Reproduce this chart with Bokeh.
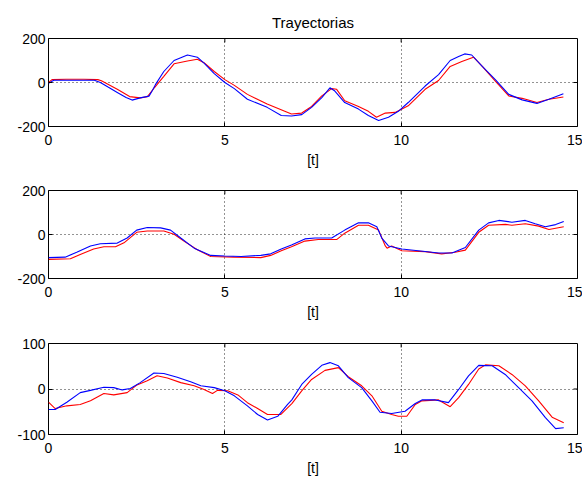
from bokeh.plotting import figure
from bokeh.layouts import column
from bokeh.models import Range1d, FixedTicker
from bokeh.embed import file_html
from bokeh.resources import INLINE

title_text = "Trayectorias"
x_label = "[t]"
x_ticks = [0, 5, 10, 15]
x_tick_labels = ["0", "5", "10", "15"]
y_ticks_12 = [-200, 0, 200]
y_tick_labels_12 = ["-200", "0", "200"]
y_ticks_3 = [-100, 0, 100]
y_tick_labels_3 = ["-100", "0", "100"]

# ---- subplot 1 ----
t1_blue = [0, 0.15, 0.5, 1.0, 1.3, 1.47, 1.7, 1.95, 2.2, 2.37, 2.6, 2.85, 2.95, 3.05, 3.27, 3.56, 3.94,
           4.22, 4.41, 4.7, 5.0, 5.27, 5.64, 6.2, 6.6, 6.89, 7.18, 7.46, 7.75, 7.98, 8.12, 8.4, 8.79,
           9.07, 9.36, 9.64, 9.92, 10.2, 10.68, 11.06, 11.39, 11.63, 11.8, 12.0, 12.3, 12.67, 13.05,
           13.43, 13.85, 14.19, 14.6]
v1_blue = [-4, 10, 10, 10, 10, 0, -22, -45, -68, -80, -70, -62, -35, -5, 50, 100, 125,
           115, 88, 40, 0, -28, -76, -113, -150, -152, -146, -113, -69, -24, -39, -91, -121,
           -150, -173, -158, -131, -91, -16, 36, 100, 118, 130, 125, 73, 13, -54,
           -79, -95, -76, -51]
t1_red = [0, 0.1, 0.5, 1.0, 1.4, 1.5, 1.95, 2.3, 2.6, 2.8, 3.0, 3.27, 3.56, 3.94, 4.22, 4.41, 4.7,
          5.0, 5.27, 5.64, 6.2, 6.89, 7.18, 7.46, 7.75, 8.03, 8.17, 8.4, 8.79, 9.07, 9.3, 9.55, 9.83,
          10.2, 10.68, 11.06, 11.39, 11.72, 12.05, 12.3, 12.67, 13.05, 13.43, 13.85, 14.19, 14.6]
v1_red = [0, 13, 15, 15, 13, 8, -31, -64, -70, -65, -24, 28, 85, 98, 106, 90, 50,
          13, -13, -54, -98, -143, -139, -109, -61, -28, -31, -83, -109, -131, -158, -139, -136,
          -106, -31, 9, 73, 95, 115, 73, 6, -61, -72, -91, -76, -66]

# ---- subplot 2 ----
t2_blue = [0, 0.47, 0.8, 1.19, 1.47, 1.95, 2.23, 2.5, 2.8, 3.18, 3.46, 3.75, 4.13, 4.6, 5.0, 5.46,
           6.02, 6.3, 6.6, 6.89, 7.27, 7.56, 8.03, 8.4, 8.79, 9.07, 9.31, 9.45, 9.64, 10.02, 10.68,
           11.06, 11.44, 11.82, 12.2, 12.48, 12.77, 13.14, 13.52, 13.8, 14.09, 14.38, 14.61]
v2_blue = [-105, -103, -81, -52, -42, -39, -16, 20, 32, 30, 20, -16, -62, -95, -98, -100,
           -95, -88, -66, -48, -20, -16, -16, 20, 53, 53, 35, -16, -52, -66, -77,
           -84, -84, -59, 20, 53, 64, 56, 64, 49, 35, 45, 59]
t2_red = [0, 0.62, 0.9, 1.28, 1.57, 1.9, 2.14, 2.5, 2.8, 3.27, 3.56, 3.84, 4.22, 4.6, 5.27, 6.02,
          6.3, 6.6, 6.89, 7.27, 7.65, 8.17, 8.4, 8.79, 9.07, 9.36, 9.55, 9.6, 9.73, 10.02, 10.68,
          11.15, 11.53, 11.82, 12.2, 12.48, 12.96, 13.14, 13.52, 13.9, 14.19, 14.61]
v2_red = [-113, -110, -91, -66, -56, -56, -38, 10, 16, 16, 1, -30, -69, -100, -103, -105,
          -95, -74, -56, -30, -23, -23, 6, 42, 42, 20, -52, -62, -52, -74, -78,
          -88, -81, -71, 10, 42, 46, 42, 49, 38, 23, 35]

# ---- subplot 3 ----
t3_blue = [0, 0.19, 0.52, 0.9, 1.19, 1.57, 1.85, 2.09, 2.32, 2.6, 2.99, 3.27, 3.65, 4.03, 4.32, 4.7,
           5.0, 5.27, 5.64, 5.93, 6.21, 6.5, 6.78, 6.9, 7.18, 7.46, 7.75, 7.98, 8.22, 8.5, 8.88, 9.17,
           9.4, 9.73, 10.11, 10.4, 10.59, 10.97, 11.34, 11.63, 11.91, 12.2, 12.58, 12.95, 13.33,
           13.71, 14.09, 14.38, 14.61]
v3_blue = [-45, -45, -29, -8, -3, 4, 3, -2, 1, 14, 35, 34, 26, 16, 7, 3,
           -4, -15, -37, -56, -68, -60, -34, -24, 10, 32, 52, 58, 51, 25, 3, -26,
           -51, -54, -49, -32, -24, -24, -30, -1, 29, 52, 51, 32, 3,
           -26, -63, -87, -85]
t3_red = [0, 0.19, 0.52, 0.9, 1.19, 1.57, 1.85, 2.23, 2.51, 2.8, 3.08, 3.37, 3.75, 4.13, 4.41, 4.65,
          4.79, 5.08, 5.37, 5.64, 5.93, 6.21, 6.59, 6.9, 7.18, 7.46, 7.84, 8.22, 8.5, 8.88, 9.17,
          9.45, 9.73, 9.92, 10.16, 10.4, 10.59, 11.06, 11.39, 11.63, 11.91, 12.2, 12.39, 12.77,
          13.14, 13.52, 13.9, 14.28, 14.61]
v3_red = [-29, -43, -37, -34, -26, -10, -13, -8, 9, 18, 29, 24, 14, 7, -1, -10,
          -3, -4, -13, -30, -43, -56, -56, -32, -4, 21, 41, 47, 27, 7, -15,
          -49, -56, -60, -60, -34, -26, -24, -39, -19, 10, 44, 53, 51,
          32, 7, -26, -62, -74]

FONT = "Liberation Sans"
FS = "14px"
FIG_W = 582
BORDER_L = 48
BORDER_R = 5
TICK_PX = 4


def make_fig(height, b_top, b_bottom, yr, yticks, ylabels, series, title=None):
    kw = {}
    if title is not None:
        kw["title"] = title
    x0, x1 = x_ticks[0], x_ticks[-1]
    p = figure(width=FIG_W, height=height, x_range=Range1d(x0, x1), y_range=Range1d(yr[0], yr[1]),
               output_backend="svg", toolbar_location=None,
               min_border_left=BORDER_L, min_border_right=BORDER_R, min_border_top=b_top,
               min_border_bottom=b_bottom, **kw)
    p.background_fill_color = "white"
    p.border_fill_color = "white"
    p.outline_line_color = "black"
    p.outline_line_alpha = 1
    p.outline_line_width = 1
    if title is not None:
        p.title.align = "center"
        p.title.vertical_align = "top"
        p.title.text_font = FONT
        p.title.text_font_size = "15px"
        p.title.text_font_style = "normal"
        p.title.text_color = "black"
        p.title.standoff = 11

    frame_w = FIG_W - BORDER_L - BORDER_R
    frame_h = height - b_top - b_bottom
    dx = (x1 - x0) * TICK_PX / frame_w
    dy = (yr[1] - yr[0]) * TICK_PX / frame_h

    p.xaxis.ticker = FixedTicker(ticks=x_ticks)
    p.yaxis.ticker = FixedTicker(ticks=yticks)
    p.xaxis.major_label_overrides = {k: s for k, s in zip(x_ticks, x_tick_labels)}
    p.yaxis.major_label_overrides = {k: s for k, s in zip(yticks, ylabels)}
    for ax in (p.xaxis, p.yaxis):
        ax.major_tick_in = TICK_PX
        ax.major_tick_out = 0
        ax.minor_tick_line_color = None
        ax.axis_line_color = None
        ax.major_tick_line_color = "black"
        ax.major_label_text_font = FONT
        ax.major_label_text_font_size = FS
        ax.major_label_text_color = "black"
    p.xaxis.major_label_standoff = 8
    p.yaxis.major_label_standoff = 3
    p.xaxis.axis_label = x_label
    p.xaxis.axis_label_text_font = FONT
    p.xaxis.axis_label_text_font_size = FS
    p.xaxis.axis_label_text_font_style = "normal"
    p.xaxis.axis_label_text_color = "black"
    p.xaxis.axis_label_standoff = 4

    for g in (p.xgrid, p.ygrid):
        g.grid_line_color = "black"
        g.grid_line_dash = "1 3"
        g.grid_line_alpha = 0.85
        g.grid_line_width = 1

    # inward ticks on the right and top sides (MATLAB "box on")
    inner_y = yticks[1:-1]
    inner_x = x_ticks[1:-1]
    p.segment(x0=[x1 - dx] * len(inner_y), y0=inner_y, x1=[x1] * len(inner_y), y1=inner_y,
              line_color="black", line_width=1)
    p.segment(x0=inner_x, y0=[yr[1] - dy] * len(inner_x), x1=inner_x, y1=[yr[1]] * len(inner_x),
              line_color="black", line_width=1)

    (tb, vb), (tr, vr) = series
    p.line(tr, vr, line_color="#ff0000", line_width=1.1)
    p.line(tb, vb, line_color="#0000ff", line_width=1.1)
    return p


p1 = make_fig(170, 38, 41, (-200, 200), y_ticks_12, y_tick_labels_12,
              ((t1_blue, v1_blue), (t1_red, v1_red)), title=title_text)
p2 = make_fig(152, 20, 40, (-200, 200), y_ticks_12, y_tick_labels_12,
              ((t2_blue, v2_blue), (t2_red, v2_red)))
p3 = make_fig(157, 21, 45, (-100, 100), y_ticks_3, y_tick_labels_3,
              ((t3_blue, v3_blue), (t3_red, v3_red)))

layout = column(p1, p2, p3, spacing=0)
open("out.html", "w").write(file_html(layout, INLINE))
